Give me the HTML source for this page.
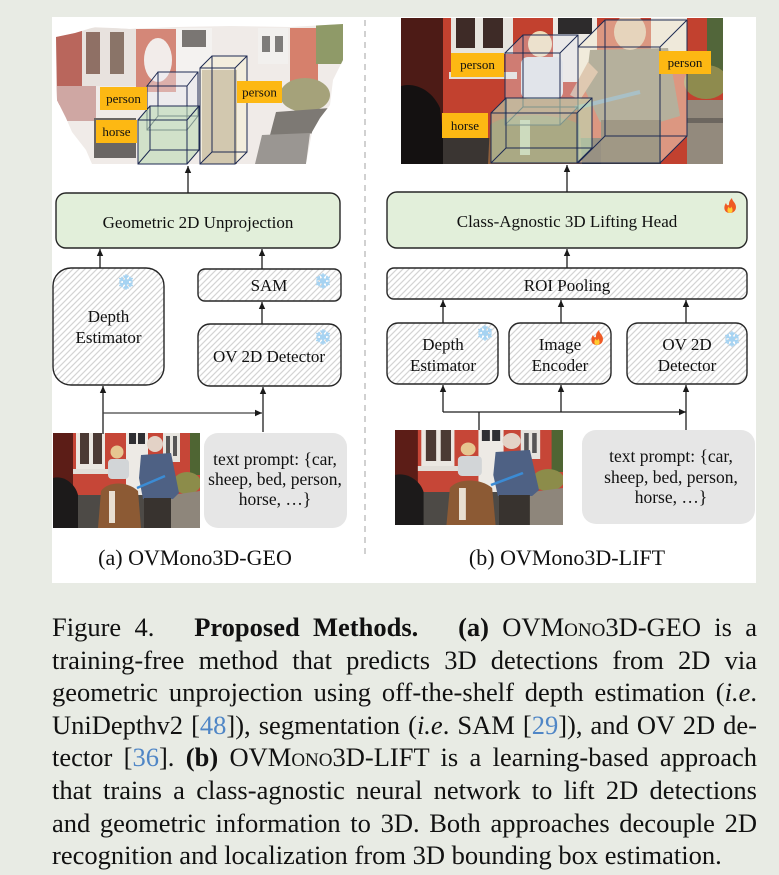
<!DOCTYPE html>
<html><head><meta charset="utf-8">
<style>
html,body{margin:0;padding:0}
body{width:779px;height:875px;background:#e8ebe4;position:relative;overflow:hidden;font-family:"Liberation Serif",serif}
#panel{position:absolute;left:52px;top:17px;width:704px;height:566px;background:#fff}
#cap{position:absolute;left:52px;top:611px;width:705px;font-size:26.5px;line-height:32.6px;color:#111;font-family:"Liberation Serif",serif}
.l{text-align:justify;text-align-last:justify;white-space:nowrap;height:32.6px}
.last{text-align-last:left}
.sc{font-variant:small-caps}
.c{color:#4f86c6}
</style></head><body>
<div id="panel"></div>
<svg width="779" height="600" viewBox="0 0 779 600" style="position:absolute;left:0;top:0" font-family="Liberation Serif, serif">
<defs>
<pattern id="h" patternUnits="userSpaceOnUse" width="6" height="6"><rect width="6" height="6" fill="#fff"/><path d="M-1,1 L1,-1 M0,6 L6,0 M5,7 L7,5" stroke="#d4d4d4" stroke-width="1.2"/></pattern>
<marker id="a" markerUnits="userSpaceOnUse" markerWidth="8" markerHeight="8" refX="7" refY="4" orient="auto"><path d="M0,0.8 L7,4 L0,7.2z" fill="#1a1a1a"/></marker>
<clipPath id="cp"><rect x="0" y="0" width="147" height="95"/></clipPath>
<clipPath id="tr"><rect x="401" y="18" width="322" height="146"/></clipPath>
<clipPath id="pc"><path d="M56,37 L75,33 L95,27 L130,29 L175,27 L230,26 L290,27 L343,24 L343,60 L333,80 L330,105 L320,118 L312,132 L306,164 L92,164 L86,150 L72,132 L66,118 L57,100 Z"/></clipPath>
<g id="ph">
<rect width="147" height="95" fill="#c64637"/>
<rect width="20" height="95" fill="#5c1d17"/>
<rect x="23" y="0" width="29" height="38" fill="#ebe7e1"/>
<rect x="27" y="0" width="9" height="31" fill="#4b3a34"/>
<rect x="40" y="0" width="9" height="31" fill="#4b3a34"/>
<rect x="20" y="36" width="36" height="5" fill="#e2ded8"/>
<rect x="73" y="0" width="22" height="63" fill="#edeae5"/>
<rect x="76" y="0" width="7" height="11" fill="#2f2f33"/>
<rect x="85" y="0" width="7" height="11" fill="#2f2f33"/>
<rect x="110" y="0" width="17" height="29" fill="#e6e4de"/>
<rect x="113" y="3" width="4" height="20" fill="#565656"/>
<rect x="120" y="3" width="4" height="20" fill="#565656"/>
<rect x="137" y="0" width="10" height="42" fill="#4f6533"/>
<ellipse cx="134" cy="50" rx="14" ry="11" fill="#8c8c4a"/>
<rect x="0" y="62" width="147" height="33" fill="#4d4a46"/>
<polygon points="105,64 147,58 147,95 105,95" fill="#8e867b"/>
<path d="M0,45 C10,42 22,50 25,62 L25,95 L0,95z" fill="#1c1a1a"/>
<path d="M48,58 C55,48 75,48 85,58 L88,95 L45,95 z" fill="#8c5a34"/>
<rect x="56" y="58" width="6" height="32" fill="#e8ded0"/>
<circle cx="64" cy="19" r="6.5" fill="#e6c690"/>
<rect x="55" y="26" width="21" height="20" rx="4" fill="#d2d5d7"/>
<path d="M88,22 L118,20 L126,60 L120,66 L90,66 L86,45 z" fill="#4e6184"/>
<circle cx="102" cy="11" r="8" fill="#e3d2c6"/>
<rect x="91" y="65" width="27" height="30" fill="#38332f"/>
<path d="M84,55 L112,43" stroke="#3b8bd4" stroke-width="2.5"/>
</g>
<g id="snow" stroke="#a6d3f2" stroke-width="1.7" fill="none" stroke-linecap="round">
<path d="M0,-7 V7 M-6.1,-3.5 L6.1,3.5 M-6.1,3.5 L6.1,-3.5"/>
<path d="M-2,-6 L0,-4 L2,-6 M-2,6 L0,4 L2,6 M-6,-1 L-3.5,-2 L-4,-4.5 M6,1 L3.5,2 L4,4.5 M-6,1 L-3.5,2 L-4,4.5 M6,-1 L3.5,-2 L4,-4.5"/>
<circle r="2.2"/>
</g>
<g id="fire"><path d="M0,7 C-6,7 -7,1 -4,-3 C-3,0 -1,0 -1,-2 C-1,-5 1,-7 2,-8 C2,-5 6,-3 6,1 C6,5 3,7 0,7z" fill="#ef5a24"/><path d="M0,7 C-3,7 -3.5,3 -1,0.5 C-1,3 1,3 1,0.5 C3.5,3 3,7 0,7z" fill="#ffcc33"/></g>
</defs>

<!-- point cloud -->
<g clip-path="url(#pc)">
<rect x="50" y="20" width="300" height="150" fill="#f0ebe8"/>
<rect x="56" y="30" width="26" height="75" fill="#b9665c"/>
<rect x="82" y="28" width="54" height="58" fill="#e8e2de"/>
<rect x="86" y="32" width="14" height="42" fill="#8f7065"/>
<rect x="110" y="32" width="14" height="42" fill="#8a7468"/>
<rect x="136" y="29" width="40" height="63" fill="#d48778"/>
<ellipse cx="158" cy="60" rx="14" ry="22" fill="#f2ecea"/>
<rect x="176" y="28" width="36" height="45" fill="#f4f2f0"/>
<rect x="182" y="30" width="24" height="17" fill="#7a7673"/>
<rect x="258" y="28" width="30" height="36" fill="#f2f0ee"/>
<rect x="262" y="36" width="8" height="16" fill="#7e7c7a"/>
<rect x="275" y="36" width="8" height="16" fill="#7e7c7a"/>
<rect x="290" y="28" width="28" height="55" fill="#d6806c"/>
<rect x="316" y="22" width="28" height="42" fill="#8f9a68"/>
<ellipse cx="305" cy="95" rx="25" ry="17" fill="#a5a27a"/>
<polygon points="276,112 330,108 325,133 270,135" fill="#7d7974"/>
<polygon points="262,135 310,133 306,164 255,164" fill="#9a9692"/>
<rect x="56" y="86" width="40" height="35" fill="#cfa7a3"/>
<rect x="94" y="118" width="42" height="40" fill="#6a6664"/>
<rect x="202" y="70" width="35" height="94" fill="#a69a84"/>
</g>
<!-- left cubes -->
<g stroke="#1e2a52" stroke-width="1">
<path d="M147,86 L158,72 L198,72 L198,116 L187,130 L147,130Z" fill="rgba(232,234,244,0.4)" stroke="none"/>
<rect x="147" y="86" width="40" height="44" fill="none"/><rect x="158" y="72" width="40" height="44" fill="none"/>
<path d="M147,86 L158,72 M187,86 L198,72 M187,130 L198,116 M147,130 L158,116" fill="none"/>
<path d="M200,68 L212,56 L247,56 L247,152 L235,164 L200,164Z" fill="rgba(246,238,212,0.55)" stroke="none"/>
<rect x="200" y="68" width="35" height="96" fill="none"/><rect x="212" y="56" width="35" height="96" fill="none"/>
<path d="M200,68 L212,56 M235,68 L247,56 M235,164 L247,152 M200,164 L212,152" fill="none"/>
<path d="M138,120 L150,106 L199,106 L199,150 L187,164 L138,164Z" fill="rgba(188,218,180,0.6)" stroke="none"/>
<rect x="138" y="120" width="49" height="44" fill="none"/><rect x="150" y="106" width="49" height="44" fill="none"/>
<path d="M138,120 L150,106 M187,120 L199,106 M187,164 L199,150 M138,164 L150,150" fill="none"/>
</g>
<g font-size="13" text-anchor="middle" fill="#111">
<rect x="100" y="87" width="47" height="23" fill="#fdb813"/><text x="123.5" y="103">person</text>
<rect x="96" y="120" width="41" height="23" fill="#fdb813"/><text x="116.5" y="136">horse</text>
<rect x="237" y="81" width="45" height="22" fill="#fdb813"/><text x="259.5" y="96.5">person</text>
</g>

<!-- top right photo -->
<g clip-path="url(#tr)">
<rect x="401" y="18" width="322" height="146" fill="#c2412f"/>
<rect x="401" y="18" width="42" height="146" fill="#4d1b16"/>
<path d="M401,86 C415,82 432,90 440,108 L446,164 L401,164Z" fill="#141111"/>
<rect x="451" y="18" width="62" height="36" fill="#e7e4de"/>
<rect x="456" y="18" width="19" height="30" fill="#3e2b27"/>
<rect x="483" y="18" width="20" height="30" fill="#3e2b27"/>
<rect x="449" y="72" width="68" height="7" fill="#e3e0db"/>
<rect x="553" y="18" width="44" height="64" fill="#ece9e3"/>
<rect x="558" y="18" width="34" height="16" fill="#2d2b2c"/>
<rect x="651" y="18" width="36" height="36" fill="#e8e5e0"/>
<rect x="707" y="18" width="16" height="64" fill="#52663a"/>
<ellipse cx="706" cy="82" rx="22" ry="17" fill="#8e8b4e"/>
<rect x="687" y="100" width="36" height="64" fill="#938a7d"/>
<rect x="687" y="118" width="36" height="5" fill="#6c665f"/>
<rect x="443" y="138" width="160" height="26" fill="#3a3532"/>
<path d="M490,125 C505,112 560,112 580,125 L582,164 L488,164Z" fill="#8f5f3c"/>
<rect x="520" y="120" width="10" height="35" fill="#e6dccd"/>
<ellipse cx="540" cy="44" rx="12" ry="13" fill="#efdcb8"/>
<rect x="521" y="57" width="42" height="42" rx="7" fill="#dde0e5"/>
<path d="M590,50 L668,48 L680,116 L660,122 L600,122 L585,90Z" fill="#757265"/>
<path d="M588,62 L570,95 L580,100 L598,72Z" fill="#c9a48e"/>
<ellipse cx="630" cy="32" rx="16" ry="18" fill="#d7bba5"/>
<rect x="601" y="120" width="60" height="44" fill="#4b4237"/>
<path d="M575,108 L640,92" stroke="#5c93b8" stroke-width="4"/>
<g stroke="#1e2a52" stroke-width="1">
<path d="M505,53 L523,35 L578,35 L578,107 L560,125 L505,125Z" fill="rgba(232,234,244,0.35)" stroke="none"/>
<rect x="505" y="53" width="55" height="72" fill="none"/><rect x="523" y="35" width="55" height="72" fill="none"/>
<path d="M505,53 L523,35 M560,53 L578,35 M560,125 L578,107 M505,125 L523,107" fill="none"/>
<path d="M578,47 L605,20 L687,20 L687,136 L660,163 L578,163Z" fill="rgba(246,238,212,0.5)" stroke="none"/>
<rect x="578" y="47" width="82" height="116" fill="none"/><rect x="605" y="20" width="82" height="116" fill="none"/>
<path d="M578,47 L605,20 M660,47 L687,20 M660,163 L687,136 M578,163 L605,136" fill="none"/>
<path d="M491,113 L506,98 L592,98 L592,148 L577,163 L491,163Z" fill="rgba(188,218,180,0.6)" stroke="none"/>
<rect x="491" y="113" width="86" height="50" fill="none"/><rect x="506" y="98" width="86" height="50" fill="none"/>
<path d="M491,113 L506,98 M577,113 L592,98 M577,163 L592,148 M491,163 L506,148" fill="none"/>
</g>
</g>
<g font-size="13" text-anchor="middle" fill="#111">
<rect x="451" y="53" width="53" height="24" fill="#fdb813"/><text x="477.5" y="69">person</text>
<rect x="442" y="113" width="46" height="25" fill="#fdb813"/><text x="465" y="130">horse</text>
<rect x="659" y="51" width="52" height="23" fill="#fdb813"/><text x="685" y="67">person</text>
</g>

<!-- divider -->
<line x1="365" y1="20" x2="365" y2="558" stroke="#b8b8b8" stroke-width="1.3" stroke-dasharray="6,5"/>

<!-- boxes -->
<g stroke="#262626" stroke-width="1.4">
<rect x="56" y="193" width="284" height="55" rx="10" fill="#e2efda"/>
<rect x="53" y="268" width="111" height="117" rx="18" fill="url(#h)"/>
<rect x="198" y="269" width="143" height="32" rx="7" fill="url(#h)"/>
<rect x="198" y="324" width="143" height="62" rx="12" fill="url(#h)"/>
<rect x="387" y="192" width="360" height="56" rx="10" fill="#e2efda"/>
<rect x="387" y="268" width="360" height="31" rx="7" fill="url(#h)"/>
<rect x="387" y="323" width="111" height="61" rx="11" fill="url(#h)"/>
<rect x="509" y="323" width="102" height="61" rx="11" fill="url(#h)"/>
<rect x="627" y="323" width="120" height="61" rx="11" fill="url(#h)"/>
</g>
<rect x="204" y="433" width="143" height="95" rx="14" fill="#e6e6e6"/>
<rect x="582" y="430" width="173" height="94" rx="14" fill="#e6e6e6"/>

<!-- photos -->
<g clip-path="url(#cp)" transform="translate(53,433)"><use href="#ph"/></g>
<g transform="translate(395,430) scale(1.143,1)"><g clip-path="url(#cp)"><use href="#ph"/></g></g>

<!-- connectors -->
<g stroke="#1e1e1e" stroke-width="1.3" marker-end="url(#a)">
<line x1="188" y1="193" x2="188" y2="166"/>
<line x1="100" y1="268" x2="100" y2="249"/>
<line x1="262" y1="269" x2="262" y2="249"/>
<line x1="262" y1="324" x2="262" y2="302"/>
<line x1="103" y1="434" x2="103" y2="386"/>
<line x1="103" y1="413" x2="262" y2="413" stroke="#444"/>
<line x1="263" y1="432" x2="263" y2="387"/>
<line x1="567" y1="192" x2="567" y2="165"/>
<line x1="567" y1="268" x2="567" y2="249"/>
<line x1="443" y1="323" x2="443" y2="300"/>
<line x1="561" y1="323" x2="561" y2="300"/>
<line x1="686" y1="323" x2="686" y2="300"/>
<line x1="443" y1="412" x2="686" y2="412"/>
<line x1="443" y1="412" x2="443" y2="385"/>
<line x1="561" y1="412" x2="561" y2="385"/>
<line x1="686" y1="430" x2="686" y2="385"/>
</g>
<line x1="479" y1="430" x2="479" y2="412" stroke="#1e1e1e" stroke-width="1.3"/>

<!-- icons -->
<use href="#snow" transform="translate(126,282)"/>
<use href="#snow" transform="translate(323,281)"/>
<use href="#snow" transform="translate(323,337)"/>
<use href="#snow" transform="translate(485,333)"/>
<use href="#snow" transform="translate(732,339)"/>
<use href="#fire" transform="translate(730,206)"/>
<use href="#fire" transform="translate(597,338)"/>

<!-- text -->
<g font-size="17" text-anchor="middle" fill="#111">
<text x="198" y="228">Geometric 2D Unprojection</text>
<text x="269" y="291">SAM</text>
<text x="108.5" y="322">Depth</text>
<text x="108.5" y="343">Estimator</text>
<text x="269" y="362">OV 2D Detector</text>
<text x="567" y="227">Class-Agnostic 3D Lifting Head</text>
<text x="567" y="291">ROI Pooling</text>
<text x="443" y="350">Depth</text>
<text x="443" y="371">Estimator</text>
<text x="560" y="350">Image</text>
<text x="560" y="371">Encoder</text>
<text x="687" y="350">OV 2D</text>
<text x="687" y="371">Detector</text>
</g>
<g font-size="17.5" text-anchor="middle" fill="#111">
<text x="275" y="465">text prompt: {car,</text>
<text x="275" y="485">sheep, bed, person,</text>
<text x="275" y="505">horse, …}</text>
<text x="671" y="462">text prompt: {car,</text>
<text x="671" y="483">sheep, bed, person,</text>
<text x="671" y="503">horse, …}</text>
</g>
<g font-size="22" text-anchor="middle" fill="#111">
<text x="195" y="565">(a) OVMono3D-GEO</text>
<text x="567" y="565">(b) OVMono3D-LIFT</text>
</g>
</svg>

<div id="cap">
<div class="l">Figure 4. &nbsp; <b>Proposed Methods.</b> &nbsp; <b>(a)</b> OVM<span class="sc">ono</span>3D-GEO is a</div>
<div class="l">training-free method that predicts 3D detections from 2D via</div>
<div class="l">geometric unprojection using off-the-shelf depth estimation (<i>i.e</i>.</div>
<div class="l">UniDepthv2 [<span class="c">48</span>]), segmentation (<i>i.e</i>. SAM [<span class="c">29</span>]), and OV 2D de-</div>
<div class="l">tector [<span class="c">36</span>]. <b>(b)</b> OVM<span class="sc">ono</span>3D-LIFT is a learning-based approach</div>
<div class="l">that trains a class-agnostic neural network to lift 2D detections</div>
<div class="l">and geometric information to 3D. Both approaches decouple 2D</div>
<div class="l last">recognition and localization from 3D bounding box estimation.</div>
</div>
</body></html>
